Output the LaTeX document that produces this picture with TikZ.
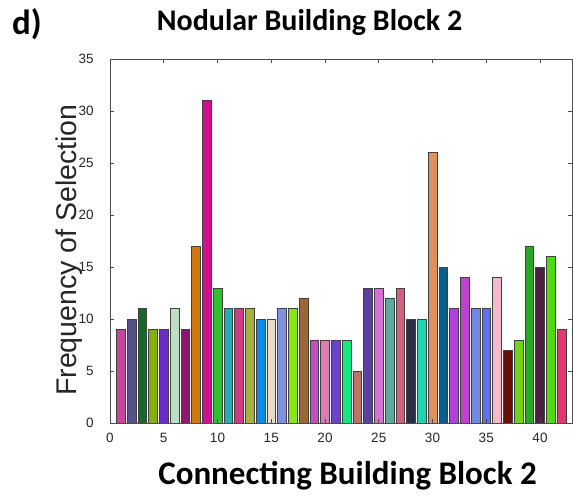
\documentclass[tikz,border=0pt]{standalone}
\usepackage{fontspec}
\newfontfamily\arialf{Liberation Sans}
\newfontfamily\calib{Carlito}
\begin{document}
\begin{tikzpicture}[x=1pt,y=-1pt,
  bar/.style={draw=black!75, line width=0.6pt},
  axisline/.style={draw=black!70, line width=0.7pt},
  ticklab/.style={font=\arialf\fontsize{13.5}{14}\selectfont, text=black!85, inner sep=0pt},
  headline/.style={font=\calib\bfseries\fontsize{30}{32}\selectfont, inner sep=0pt}]
\useasboundingbox (0,0) rectangle (573,499);
\fill[white] (0,0) rectangle (573,499);
\node[headline, font=\calib\bfseries\fontsize{35}{37}\selectfont, anchor=west] (d) at (12,24) {d)};
\node[headline] (title) at (309.5,23) {Nodular Building Block 2};
\node[headline, font=\calib\bfseries\fontsize{33}{35}\selectfont] (xlab) at (347.5,476) {Connecting Building Block 2};
\node[font=\arialf\fontsize{28.5}{30}\selectfont, rotate=90, inner sep=0pt, text=black!85] (ylab) at (69,250) {Frequency of Selection};
\begin{scope}[shift={(110,423)}, x=10.75pt, y=10.4pt]
  \foreach \h/\c [count=\i] in {9/CC4499,10/58508A,11/16692E,9/84B00A,9/6A2ACC,11/BFDDC2,9/8C1870,17/D0780F,31/D0108E,13/30C030,
     11/20B0B8,11/D03C84,11/A8B040,10/0A8CE8,10/E6DCC6,11/8290E0,11/8CE614,12/9A6830,8/C050C0,8/DC7CB4,
     8/6A42CC,8/10E880,5/BC7468,13/5A40A0,13/D870D8,12/60A8A0,13/D46080,10/2C2C48,10/20D4B0,26/E0905C,
     15/0C5C8C,11/B040E0,14/C040D0,11/7088E0,11/6070F0,14/F8B8CC,7/661008,8/70D410,17/28A820,15/4C2040,
     16/50D810,9/E03870}{
    \definecolor{barc}{HTML}{\c}
    \draw[bar, fill=barc] (\i-0.41,0) rectangle (\i+0.41,\h);
  }
  \draw[axisline] (0,0) rectangle (43,35);
  \foreach \t in {5,10,...,40}{
    \draw[axisline] (\t,0) -- ++(0,0.35);
    \draw[axisline] (\t,35) -- ++(0,-0.35);
  }
  \foreach \t in {5,10,...,30}{
    \draw[axisline] (0,\t) -- ++(0.35,0);
    \draw[axisline] (43,\t) -- ++(-0.35,0);
  }
  \foreach \t in {0,5,...,40}
    \node[ticklab, anchor=north] at (\t,-0.95) {\t};
  \foreach \t in {0,5,...,35}
    \node[ticklab, anchor=east] at (-1.5,\t) {\t};
\end{scope}
\end{tikzpicture}
\end{document}
